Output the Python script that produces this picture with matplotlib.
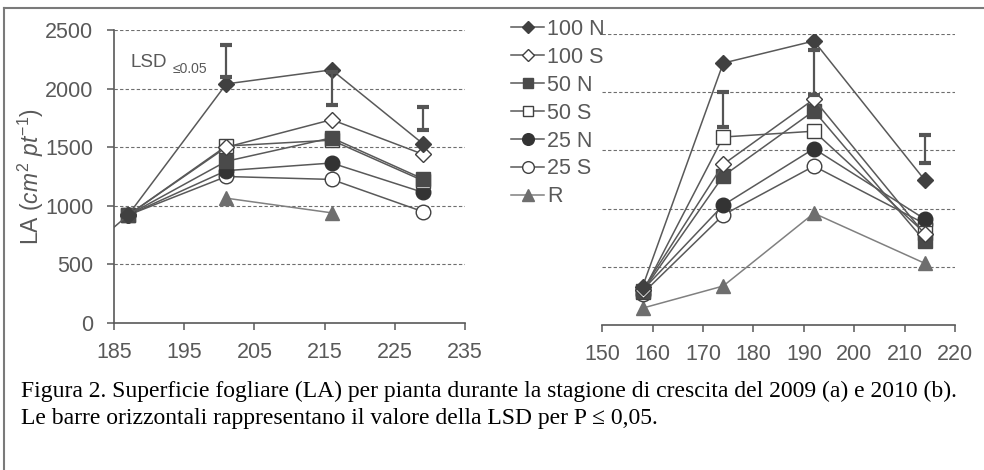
import matplotlib
matplotlib.use("Agg")
import matplotlib.pyplot as plt
from matplotlib.lines import Line2D

plt.rcParams['font.family'] = ['Liberation Sans', 'DejaVu Sans']
plt.rcParams['mathtext.fontset'] = 'custom'
plt.rcParams['mathtext.rm'] = 'Liberation Sans'
plt.rcParams['mathtext.it'] = 'Liberation Sans:italic'

# ---------------- data ----------------
series_names = ['100 N', '100 S', '50 N', '50 S', '25 N', '25 S', 'R']

# 2009 (panel a)
days_a = [187, 201, 216, 229]
days_a_100N = [180, 187, 201, 216, 229]
a_100N = [560, 920, 2040, 2160, 1530]
a_100S = [920, 1500, 1735, 1440]
a_50N = [920, 1380, 1580, 1230]
a_50S = [920, 1510, 1560, 1215]
a_25N = [920, 1300, 1365, 1115]
a_25S = [920, 1250, 1225, 950]
days_a_R = [201, 216]
a_R = [1065, 940]

lsd_a_days = [201, 216, 229]
lsd_a_low = [2095, 1860, 1650]
lsd_a_high = [2370, 2140, 1845]

# 2010 (panel b)
days_b = [158, 174, 192, 214]
b_100N = [330, 2250, 2440, 1245]
b_100S = [300, 1380, 1940, 780]
b_50N = [290, 1280, 1840, 720]
b_50S = [280, 1615, 1665, 790]
b_25N = [300, 1030, 1515, 910]
b_25S = [270, 945, 1365, 870]
b_R = [145, 335, 960, 530]

lsd_b_days = [174, 192, 214]
lsd_b_low = [1700, 1980, 1395]
lsd_b_high = [2005, 2360, 1635]

xticks_a = [185, 195, 205, 215, 225, 235]
xticks_b = [150, 160, 170, 180, 190, 200, 210, 220]
yticks = [0, 500, 1000, 1500, 2000, 2500]

caption1 = "Figura 2. Superficie fogliare (LA) per pianta durante la stagione di crescita del 2009 (a) e 2010 (b)."
caption2 = "Le barre orizzontali rappresentano il valore della LSD per P \u2264 0,05."

# ---------------- styles ----------------
LINE = '#595959'
TXT = '#595959'
FS = 15.5
styles = {
    '100 N': dict(marker='D', mfc='#404040', mec='#404040', ms=8, color=LINE),
    '100 S': dict(marker='D', mfc='white', mec='#404040', ms=8, color=LINE),
    '50 N': dict(marker='s', mfc='#4a4a4a', mec='#4a4a4a', ms=9.5, color=LINE),
    '50 S': dict(marker='s', mfc='white', mec='#404040', ms=9.5, color=LINE),
    '25 N': dict(marker='o', mfc='#333333', mec='#333333', ms=10.5, color=LINE),
    '25 S': dict(marker='o', mfc='white', mec='#404040', ms=10.5, color=LINE),
    'R': dict(marker='^', mfc='#6e6e6e', mec='#6e6e6e', ms=10.5, color='#808080'),
}

W, H = 984, 470
fig = plt.figure(figsize=(W / 100, H / 100), dpi=100)

ax1 = fig.add_axes([114 / W, 1 - 323 / H, (465 - 114) / W, (323 - 30) / H])
ax2 = fig.add_axes([602.3 / W, 1 - 325 / H, (955 - 602.3) / W, (325 - 34) / H])

data_a = [(days_a_100N, a_100N), (days_a, a_100S), (days_a, a_50N), (days_a, a_50S),
          (days_a, a_25N), (days_a, a_25S), (days_a_R, a_R)]
data_b = [(days_b, b_100N), (days_b, b_100S), (days_b, b_50N), (days_b, b_50S),
          (days_b, b_25N), (days_b, b_25S), (days_b, b_R)]

for ax, data, (x0, x1), xt in [(ax1, data_a, (185, 235), xticks_a),
                               (ax2, data_b, (150, 220), xticks_b)]:
    for gy in yticks[1:]:
        ax.axhline(gy, color='#6e6e6e', lw=0.8, ls=(0, (3, 2)), zorder=1)
    for k, name in enumerate(series_names):
        xs, ys = data[k]
        st = styles[name]
        ax.plot(xs, ys, lw=1.1, zorder=10 - k, mew=1.0, **st)
    ax.set_xlim(x0, x1)
    ax.set_ylim(0, 2500)
    ax.set_xticks(xt)
    for s in ['top', 'right']:
        ax.spines[s].set_visible(False)
    ax.spines['bottom'].set_color(LINE)
    ax.spines['bottom'].set_linewidth(1.2)
    ax.tick_params(axis='x', direction='out', length=5, width=1.1, color=LINE,
                   labelsize=FS, labelcolor=TXT, pad=9)
    ax.set_facecolor('none')

ax1.spines['left'].set_color(LINE)
ax1.spines['left'].set_linewidth(1.2)
ax1.set_yticks(yticks)
ax1.tick_params(axis='y', direction='out', length=5, width=1.1, color=LINE,
                labelsize=FS, labelcolor=TXT, pad=10)
ax2.spines['left'].set_visible(False)
ax2.set_yticks([])

# LSD bars
for ax, xs, lo, hi in [(ax1, lsd_a_days, lsd_a_low, lsd_a_high),
                       (ax2, lsd_b_days, lsd_b_low, lsd_b_high)]:
    ax.vlines(xs, lo, hi, color='#555555', lw=1.6, zorder=20)
    ax.plot(xs, lo, ls='none', marker='_', ms=8, mew=3, color='#555555', zorder=20)
    ax.plot(xs, hi, ls='none', marker='_', ms=8, mew=3, color='#555555', zorder=20)

ax1.text(187.3, 2225, 'LSD', fontsize=13.5, color=TXT, ha='left', va='center')
ax1.text(193.4, 2170, '\u22640.05', fontsize=10, color=TXT, ha='left', va='center',
         family=['Liberation Sans', 'DejaVu Sans'])

ax1.set_ylabel(r'LA $(cm^{2}\ pt^{-1})$', fontsize=16.5, color=TXT)
ax1.yaxis.set_label_coords(-0.195, 0.5)

# legend
handles = [Line2D([], [], lw=1.1, mew=1.0, **styles[n]) for n in series_names]
fig.legend(handles, series_names, loc='upper left', bbox_to_anchor=(511 / W, 1 - 19 / H),
           frameon=False, fontsize=FS, labelcolor=TXT, handlelength=1.55,
           handletextpad=0.12, labelspacing=0.32, borderpad=0, borderaxespad=0,
           markerscale=0.8)

# caption
fig.text(21 / W, 1 - 397 / H, caption1, fontsize=17, family='Liberation Serif',
         color='black', ha='left', va='baseline')
fig.text(21 / W, 1 - 424 / H, caption2, fontsize=17, family='Liberation Serif',
         color='black', ha='left', va='baseline')

# outer frame (top and left edges visible)
fig.add_artist(Line2D([4 / W, 1], [1 - 7.5 / H, 1 - 7.5 / H], transform=fig.transFigure,
                      color='#7a7a7a', lw=1.5))
fig.add_artist(Line2D([4 / W, 4 / W], [0, 1 - 7.5 / H], transform=fig.transFigure,
                      color='#7a7a7a', lw=1.5))

fig.savefig('out.png', dpi=100, facecolor='white')
